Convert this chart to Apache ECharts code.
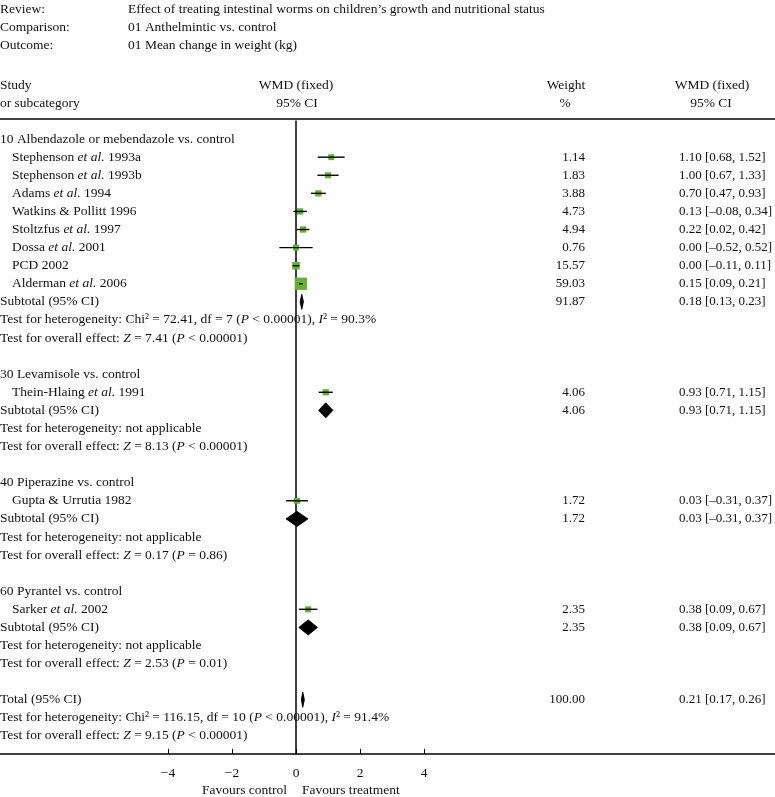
<!DOCTYPE html>
<html>
<head>
<meta charset="utf-8">
<script src="https://cdn.jsdelivr.net/npm/echarts@6/dist/echarts.min.js"></script>
<style>html,body{margin:0;padding:0;background:#fff}#forest{width:775px;height:797px}</style>
</head>
<body>
<div id="forest"></div>
<script>
/** forest plot: anthelmintic vs control, weight change */
var FONT = '"Liberation Serif", "Times New Roman", serif';
var FS = 13.5;
var FS_NUM = 13;
var GREEN = '#62b22f';

var groupNames = [
  '10 Albendazole or mebendazole vs. control',
  '30 Levamisole vs. control',
  '40 Piperazine vs. control',
  '60 Pyrantel vs. control'
];
var hetTexts = [
  'Test for heterogeneity: Chi² = 72.41, df = 7 ({i|P} < 0.00001), {i|I}² = 90.3%',
  'Test for heterogeneity: not applicable',
  'Test for heterogeneity: not applicable',
  'Test for heterogeneity: not applicable'
];
var overallTexts = [
  'Test for overall effect: {i|Z} = 7.41 ({i|P} < 0.00001)',
  'Test for overall effect: {i|Z} = 8.13 ({i|P} < 0.00001)',
  'Test for overall effect: {i|Z} = 0.17 ({i|P} = 0.86)',
  'Test for overall effect: {i|Z} = 2.53 ({i|P} = 0.01)'
];
var subWeight = [91.87, 4.06, 1.72, 2.35];
var subMean = [0.18, 0.93, 0.03, 0.38];
var subLower = [0.13, 0.71, -0.31, 0.09];
var subUpper = [0.23, 1.15, 0.37, 0.67];

var studyLabels = [
  'Stephenson {i|et al.} 1993a',
  'Stephenson {i|et al.} 1993b',
  'Adams {i|et al.} 1994',
  'Watkins & Pollitt 1996',
  'Stoltzfus {i|et al.} 1997',
  'Dossa {i|et al.} 2001',
  'PCD 2002',
  'Alderman {i|et al.} 2006',
  'Thein-Hlaing {i|et al.} 1991',
  'Gupta & Urrutia 1982',
  'Sarker {i|et al.} 2002'
];
var studyGroup = [0, 0, 0, 0, 0, 0, 0, 0, 1, 2, 3];
var studyWeight = [1.14, 1.83, 3.88, 4.73, 4.94, 0.76, 15.57, 59.03, 4.06, 1.72, 2.35];
var studyMean = [1.10, 1.00, 0.70, 0.13, 0.22, 0.00, 0.00, 0.15, 0.93, 0.03, 0.38];
var studyLower = [0.68, 0.67, 0.47, -0.08, 0.02, -0.52, -0.11, 0.09, 0.71, -0.31, 0.09];
var studyUpper = [1.52, 1.33, 0.93, 0.34, 0.42, 0.52, 0.11, 0.21, 1.15, 0.37, 0.67];

var totalWeight = 100.00;
var totalMean = 0.21;
var totalLower = 0.17;
var totalUpper = 0.26;
var totalHet = 'Test for heterogeneity: Chi² = 116.15, df = 10 ({i|P} < 0.00001), {i|I}² = 91.4%';
var totalOverall = 'Test for overall effect: {i|Z} = 9.15 ({i|P} < 0.00001)';

function num(v) {
  return (v < 0 ? '\u2013' : '') + Math.abs(v).toFixed(2);
}
function ciText(m, lo, hi) {
  return num(m) + ' [' + num(lo) + ', ' + num(hi) + ']';
}

// lay the rows out one under another
var rows = [];
var r = 0;
groupNames.forEach(function (g, gi) {
  rows.push({ row: r++, kind: 'text', label: g });
  studyLabels.forEach(function (s, si) {
    if (studyGroup[si] !== gi) return;
    rows.push({
      row: r++, kind: 'study', label: s, indent: true,
      w: studyWeight[si], mean: studyMean[si], lo: studyLower[si], hi: studyUpper[si]
    });
  });
  rows.push({
    row: r++, kind: 'diamond', label: 'Subtotal (95% CI)',
    w: subWeight[gi], mean: subMean[gi], lo: subLower[gi], hi: subUpper[gi]
  });
  rows.push({ row: r++, kind: 'text', label: hetTexts[gi] });
  rows.push({ row: r++, kind: 'text', label: overallTexts[gi] });
  r++;
});
rows.push({
  row: r++, kind: 'diamond', label: 'Total (95% CI)',
  w: totalWeight, mean: totalMean, lo: totalLower, hi: totalUpper
});
rows.push({ row: r++, kind: 'text', label: totalHet });
rows.push({ row: r++, kind: 'text', label: totalOverall });

var rich = { i: { fontStyle: 'italic', fontFamily: FONT, fontSize: FS, fill: '#111' } };

function txt(x, y, text, align, size) {
  return {
    type: 'text',
    style: {
      x: x, y: y, text: text, fill: '#111', fontFamily: FONT, fontSize: size || FS,
      align: align || 'left', verticalAlign: 'middle', rich: rich
    }
  };
}

function renderItem(params, api) {
  var d = rows[params.dataIndex];
  var y = api.coord([0, d.row])[1];
  var kids = [txt(d.indent ? 12 : 0, y, d.label)];
  if (d.w != null) {
    kids.push(txt(585, y, d.w.toFixed(2), 'right', FS_NUM));
    kids.push(txt(679, y, ciText(d.mean, d.lo, d.hi), 'left', FS_NUM));
    var c = api.coord([d.mean, d.row]);
    var pl = api.coord([d.lo, d.row]);
    var ph = api.coord([d.hi, d.row]);
    if (d.kind === 'study') {
      var s = 5.8 + d.w * 0.11;
      kids.push({
        type: 'rect',
        shape: { x: c[0] - s / 2, y: c[1] - s / 2, width: s, height: s },
        style: { fill: GREEN }
      });
      kids.push({
        type: 'line',
        shape: { x1: pl[0], y1: y, x2: ph[0], y2: y },
        style: { stroke: '#000', lineWidth: 1.4 }
      });
    } else {
      kids.push({
        type: 'polygon',
        shape: { points: [[pl[0], y], [c[0], y - 7.5], [ph[0], y], [c[0], y + 7.5]] },
        style: { fill: '#000', stroke: '#000', lineWidth: 1 }
      });
    }
  }
  return { type: 'group', children: kids };
}

var headTexts = [
  ['Review:', 'Effect of treating intestinal worms on children\u2019s growth and nutritional status'],
  ['Comparison:', '01 Anthelmintic vs. control'],
  ['Outcome:', '01 Mean change in weight (kg)']
];
function ctext(x, y, t, align) {
  return {
    type: 'text', x: x, y: y,
    style: { text: t, font: FS + 'px ' + FONT, fill: '#111', align: align, verticalAlign: 'middle' }
  };
}
var graphics = [];
headTexts.forEach(function (h, i) {
  graphics.push(ctext(0, 9 + i * 18, h[0], 'left'));
  graphics.push(ctext(128, 9 + i * 18, h[1], 'left'));
});
graphics.push(ctext(0, 85, 'Study', 'left'));
graphics.push(ctext(0, 103, 'or subcategory', 'left'));
graphics.push(ctext(296, 85, 'WMD (fixed)', 'center'));
graphics.push(ctext(297, 103, '95% CI', 'center'));
graphics.push(ctext(566, 85, 'Weight', 'center'));
graphics.push(ctext(565, 103, '%', 'center'));
graphics.push(ctext(712, 85, 'WMD (fixed)', 'center'));
graphics.push(ctext(711, 103, '95% CI', 'center'));
graphics.push(ctext(287, 790, 'Favours control', 'right'));
graphics.push(ctext(302, 790, 'Favours treatment', 'left'));
graphics.push({ type: 'line', shape: { x1: 0, y1: 119, x2: 775, y2: 119 }, style: { stroke: '#000', lineWidth: 1.5 } });
graphics.push({ type: 'line', shape: { x1: 0, y1: 754, x2: 775, y2: 754 }, style: { stroke: '#000', lineWidth: 1.5 } });

var forest = echarts.init(document.getElementById('forest'));
var option = {
  animation: false,
  backgroundColor: '#fff',
  grid: { left: 168, right: 351, top: 121, bottom: 43 },
  xAxis: {
    type: 'value',
    min: -4,
    max: 4,
    interval: 2,
    axisLine: { show: false, onZero: false },
    axisTick: { show: true, inside: true, length: 5, lineStyle: { color: '#000', width: 1 } },
    axisLabel: {
      margin: 12,
      color: '#111',
      fontFamily: FONT,
      fontSize: FS,
      formatter: function (v) { return v < 0 ? '\u2212' + (-v) : String(v); }
    },
    splitLine: { show: false }
  },
  yAxis: {
    type: 'value',
    min: -1,
    max: 34,
    inverse: true,
    axisLine: { show: true, onZero: true, lineStyle: { color: '#000', width: 1.5 } },
    axisTick: { show: false },
    axisLabel: { show: false },
    splitLine: { show: false }
  },
  graphic: graphics,
  series: [{
    type: 'custom',
    clip: false,
    renderItem: renderItem,
    encode: { x: 0, y: 1 },
    data: rows.map(function (d) { return [d.mean != null ? d.mean : 0, d.row]; })
  }]
};
forest.setOption(option);
</script>
</body>
</html>
